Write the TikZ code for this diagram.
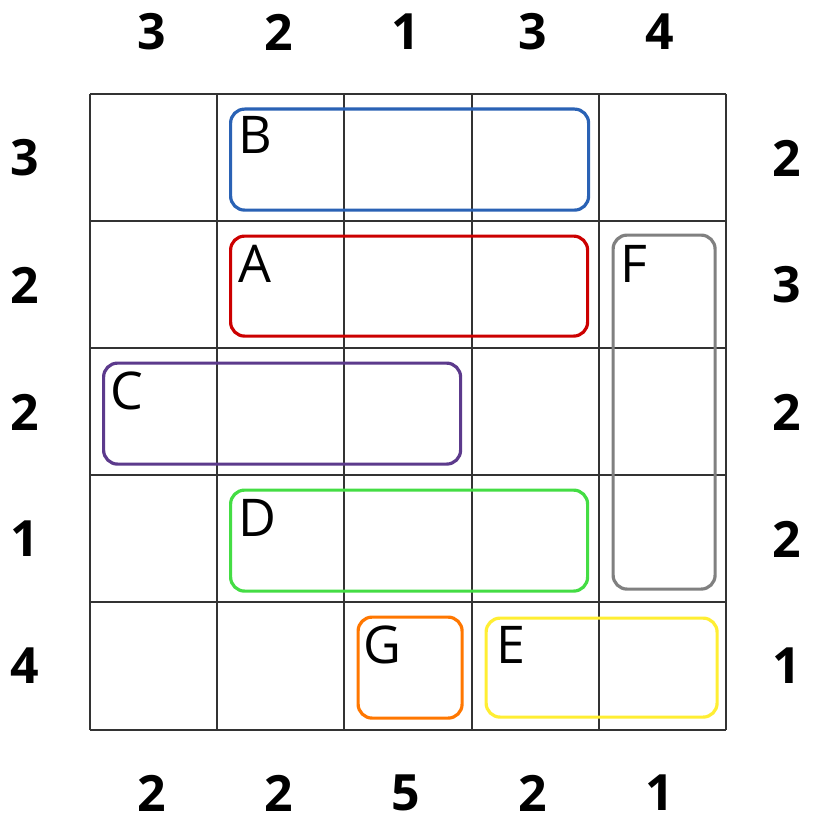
\documentclass[tikz,border=0pt]{standalone}
\usepackage{fontspec}
\setmainfont{Open Sans}
\begin{document}
\begin{tikzpicture}[x=1pt,y=-1pt,
  gridline/.style={draw=black!80,line width=1.2pt},
  piece/.style={draw,line width=3.2pt,rounded corners=14pt,inner sep=0pt,anchor=north west},
  plabel/.style={anchor=base west,inner sep=0pt,font=\fontsize{52}{52}\selectfont},
  clue/.style={inner sep=0pt,font=\fontsize{50}{50}\selectfont\bfseries}]
\definecolor{cB}{HTML}{2A62B5}
\definecolor{cA}{HTML}{CC0000}
\definecolor{cC}{HTML}{5C3A8C}
\definecolor{cD}{HTML}{44DD44}
\definecolor{cF}{HTML}{808080}
\definecolor{cG}{HTML}{FF7700}
\definecolor{cE}{HTML}{FFEE33}
\useasboundingbox (0,0) rectangle (812,821);
\fill[white] (0,0) rectangle (812,821);
% grid
\foreach \x in {90,217,344,472,599,726} \draw[gridline] (\x,94) -- (\x,730);
\foreach \y in {94,221,348,475,602,730} \draw[gridline] (90,\y) -- (726,\y);
% pieces
\node[piece,draw=cB,minimum width=358pt,minimum height=101pt] (B) at (229,107.5) {};
\node[piece,draw=cA,minimum width=357pt,minimum height=100pt] (A) at (229,234.5) {};
\node[piece,draw=cC,minimum width=357pt,minimum height=101pt] (C) at (102,361.5) {};
\node[piece,draw=cD,minimum width=357pt,minimum height=101pt] (D) at (229,488.5) {};
\node[piece,draw=cF,minimum width=102pt,minimum height=354pt] (F) at (611.5,233.5) {};
\node[piece,draw=cG,minimum width=104pt,minimum height=101pt] (G) at (356.5,615.5) {};
\node[piece,draw=cE,minimum width=231pt,minimum height=99pt] (E) at (484.5,616.5) {};
\node[plabel] (lB) at (238,154) {B};
\node[plabel] (lA) at (238,282) {A};
\node[plabel] (lC) at (110,409) {C};
\node[plabel] (lD) at (238,536) {D};
\node[plabel] (lF) at (620,282) {F};
\node[plabel] (lG) at (363,663) {G};
\node[plabel] (lE) at (496,663) {E};
% top clues
\node[clue] (t1) at (151.5,32) {3};
\node[clue] (t2) at (279,32) {2};
\node[clue] (t3) at (405.5,32) {1};
\node[clue] (t4) at (533,32) {3};
\node[clue] (t5) at (659.5,32) {4};
% bottom clues
\node[clue] (b1) at (151.5,793) {2};
\node[clue] (b2) at (279,793) {2};
\node[clue] (b3) at (405.5,793) {5};
\node[clue] (b4) at (533,793) {2};
\node[clue] (b5) at (659.5,793) {1};
% left clues
\node[clue] (l1) at (25,158) {3};
\node[clue] (l2) at (25,285) {2};
\node[clue] (l3) at (25,412) {2};
\node[clue] (l4) at (25,539) {1};
\node[clue] (l5) at (25,666) {4};
% right clues
\node[clue] (r1) at (787,158) {2};
\node[clue] (r2) at (787,285) {3};
\node[clue] (r3) at (787,412) {2};
\node[clue] (r4) at (787,539) {2};
\node[clue] (r5) at (787,666) {1};
\end{tikzpicture}
\end{document}
